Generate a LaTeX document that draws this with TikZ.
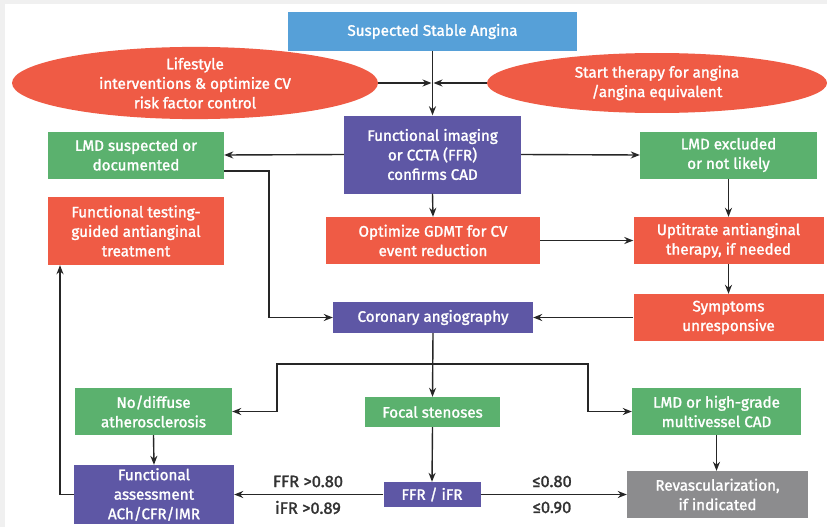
\documentclass[tikz,border=0pt]{standalone}
\usepackage{fontspec}
\setmainfont{Fira Sans}[FakeBold=1.6]
\usetikzlibrary{arrows.meta,shapes.geometric}
\definecolor{cblue}{HTML}{56A0D8}
\definecolor{cred}{HTML}{EF5B45}
\definecolor{cgreen}{HTML}{5BB16E}
\definecolor{cpurple}{HTML}{5E57A5}
\definecolor{cgrey}{HTML}{8C8C8E}
\definecolor{ctext}{HTML}{333333}
\tikzset{
  box/.style={rectangle, inner sep=2pt, align=center, text=white,
    font=\fontsize{15.2}{19.5}\selectfont},
  ell/.style={ellipse, inner sep=0pt, align=center, text=white, fill=cred,
    font=\fontsize{15.2}{19.5}\selectfont},
  lbl/.style={text=ctext, font=\fontsize{16.5}{19.5}\selectfont},
  arr/.style={draw=black!85, line width=1.4pt, -{Stealth[length=9pt,width=7pt]}},
  ln/.style={draw=black!85, line width=1.4pt}
}
\begin{document}
\begin{tikzpicture}[x=1pt,y=-1pt]
\useasboundingbox (0,0) rectangle (827,527);
\fill[white] (0,0) rectangle (827,527);
\fill[black!6] (0,0) rectangle (827,4);
\fill[black!6] (0,0) rectangle (5,527);
% nodes
\node[box, fill=cblue, minimum width=289pt, minimum height=39pt] (top) at (432.5,31.5) {Suspected Stable Angina};
\node[ell, minimum width=366pt, minimum height=60pt] (ell1) at (195,83) {Lifestyle\\interventions \& optimize CV\\risk factor control};
\node[ell, minimum width=340pt, minimum height=60pt] (ell2) at (657,83) {Start therapy for angina\\/angina equivalent};
\node[box, fill=cpurple, minimum width=177pt, minimum height=78pt] (img) at (432.5,154.5) {Functional imaging\\or CCTA (FFR)\\confirms CAD};
\node[box, fill=cgreen, minimum width=176pt, minimum height=47pt] (lmds) at (136,155) {LMD suspected or\\documented};
\node[box, fill=cgreen, minimum width=177pt, minimum height=47pt] (lmdx) at (728.5,155) {LMD excluded\\or not likely};
\node[box, fill=cred, minimum width=176pt, minimum height=68pt] (ftest) at (136,231) {Functional testing-\\guided antianginal\\treatment};
\node[box, fill=cred, minimum width=214pt, minimum height=47pt] (gdmt) at (433,240.5) {Optimize GDMT for CV\\event reduction};
\node[box, fill=cred, minimum width=190pt, minimum height=47pt] (upt) at (728.5,240.5) {Uptitrate antianginal\\therapy, if needed};
\node[box, fill=cred, minimum width=190pt, minimum height=47pt] (symp) at (728.5,317.5) {Symptoms\\unresponsive};
\node[box, fill=cpurple, minimum width=200pt, minimum height=31pt] (angio) at (433,317.5) {Coronary angiography};
\node[box, fill=cgreen, minimum width=157pt, minimum height=47pt] (nodiff) at (153.5,411.5) {No/diffuse\\atherosclerosis};
\node[box, fill=cgreen, minimum width=135pt, minimum height=30pt] (focal) at (432.5,412) {Focal stenoses};
\node[box, fill=cgreen, minimum width=169pt, minimum height=47pt] (lmdh) at (716.5,411.5) {LMD or high-grade\\multivessel CAD};
\node[box, fill=cpurple, minimum width=97pt, minimum height=25pt] (ffr) at (432,494.5) {FFR / iFR};
\node[box, fill=cpurple, minimum width=160pt, minimum height=59pt] (fass) at (154,494.5) {Functional\\assessment\\ACh/CFR/IMR};
\node[box, fill=cgrey, minimum width=181pt, minimum height=47pt] (revasc) at (717.5,494.5) {Revascularization,\\if indicated};
% labels
\node[lbl] (l1) at (308,481.5) {FFR >0.80};
\node[lbl] (l2) at (308,507.5) {iFR >0.89};
\node[lbl] (l3) at (552,481.5) {≤0.80};
\node[lbl] (l4) at (552,507.5) {≤0.90};
% coordinates
\coordinate (j) at (432.5,83);
\coordinate (sp) at (432.5,364);
\coordinate (bl) at (277,364);
\coordinate (br) at (588,364);
\coordinate (lb) at (60,494.5);
\coordinate (lm) at (269,171);
% connectors
\draw[arr] (top.south) -- (img.north);
\draw[arr] (ell1.east) -- ([xshift=-1pt]j);
\draw[arr] (ell2.west) -- ([xshift=1pt]j);
\draw[arr] (img.west) -- (lmds.east);
\draw[arr] (img.east) -- (lmdx.west);
\draw[arr] ([yshift=-16pt]lmds.east) -- (lm) |- (angio.west);
\draw[arr] (img.south) -- (gdmt.north);
\draw[arr] (gdmt.east) -- (upt.west);
\draw[arr] (lmdx.south) -- (upt.north);
\draw[arr] (upt.south) -- (symp.north);
\draw[arr] (symp.west) -- (angio.east);
\draw[arr] (angio.south) -- (focal.north);
\draw[arr] (sp) -- (bl) |- (nodiff.east);
\draw[arr] (sp) -- (br) |- (lmdh.west);
\draw[arr] (focal.south) -- (ffr.north);
\draw[arr] (nodiff.south) -- (fass.north);
\draw[arr] (ffr.west) -- (fass.east);
\draw[arr] (ffr.east) -- (revasc.west);
\draw[arr] (lmdh.south) -- (lmdh.south |- revasc.north);
\draw[arr] (fass.west) -- (lb) -- (lb |- ftest.south);
\end{tikzpicture}
\end{document}
